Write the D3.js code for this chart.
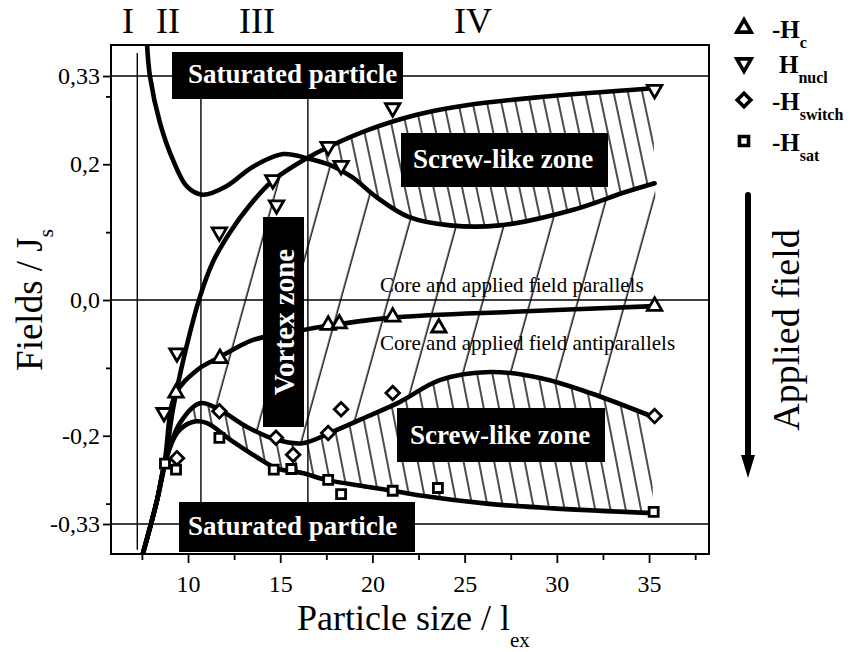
<!DOCTYPE html>
<html>
<head>
<meta charset="utf-8">
<script src="https://cdn.jsdelivr.net/npm/d3@7"></script>
<style>
  body { margin: 0; background: #fff; }
</style>
</head>
<body>
<div class="container"></div>
<script>
// Measured points (particle size / l_ex, field / J_s)
const hcPoints = [[9.35,-0.137],[11.73,-0.086],[17.6,-0.037],[18.2,-0.035],[21.1,-0.025],[23.6,-0.041],[35.3,-0.009]]
const nuclPoints = [[8.7,-0.166],[9.4,-0.078],[11.7,0.100],[14.6,0.177],[14.8,0.140],[17.6,0.226],[18.3,0.198],[21.1,0.283],[35.3,0.310]]
const switchPoints = [[9.4,-0.233],[11.7,-0.164],[14.77,-0.203],[15.7,-0.228],[17.6,-0.196],[18.3,-0.161],[21.1,-0.137],[35.3,-0.171]]
const satPoints = [[8.75,-0.241],[9.35,-0.25],[11.7,-0.203],[14.65,-0.25],[15.6,-0.249],[17.6,-0.265],[18.3,-0.286],[21.1,-0.281],[23.55,-0.277],[35.25,-0.312]]

// Fitted curves
const nuclFitA = [[7.78,0.376],[7.94,0.329],[8.48,0.261],[9.19,0.206],[9.95,0.167],[10.8,0.155],[12.1,0.168],[13.5,0.196],[15.15,0.215],[16.45,0.209],[17.7,0.199],[18.9,0.181],[20.2,0.152],[22.0,0.122],[24.2,0.11],[26.9,0.11],[30.9,0.133],[33.6,0.158],[35.3,0.172]]
const nuclFitB = [[7.56,-0.373],[8.32,-0.295],[8.75,-0.24],[9.19,-0.16],[9.8,-0.082],[10.65,0.005],[11.35,0.056],[12.28,0.1],[13.36,0.14],[14.6,0.176],[16.45,0.209],[17.5,0.224],[19.7,0.25],[22.4,0.273],[25.1,0.287],[29.1,0.299],[35.2,0.312]]
const hcFit = [[7.56,-0.373],[8.32,-0.295],[8.75,-0.235],[9.3,-0.14],[10.5,-0.103],[11.73,-0.084],[13.5,-0.059],[15.7,-0.047],[17.6,-0.038],[21.1,-0.026],[28.0,-0.017],[35.3,-0.009]]
const switchFit = [[7.56,-0.373],[8.32,-0.295],[8.75,-0.24],[9.57,-0.181],[10.65,-0.152],[11.73,-0.162],[13.2,-0.187],[14.8,-0.206],[16.2,-0.211],[17.85,-0.194],[19.7,-0.172],[21.5,-0.15],[23.65,-0.118],[26.4,-0.106],[29.1,-0.115],[31.8,-0.137],[35.2,-0.172]]
const satFit = [[7.56,-0.373],[8.32,-0.295],[8.75,-0.24],[9.4,-0.196],[10.2,-0.18],[11.0,-0.181],[12.3,-0.206],[13.7,-0.231],[14.8,-0.248],[16.2,-0.255],[17.5,-0.265],[19.7,-0.275],[21.1,-0.281],[22.6,-0.288],[26.2,-0.3],[29.8,-0.307],[35.2,-0.314]]
const midRightEdge = [[35.3,0.172],[35.3,0.118],[32.6,-0.145]]

// Axes, ticks, guide lines
const xTicks = [10, 15, 20, 25, 30, 35]
const xMinorTicks = [7.5, 12.5, 17.5, 22.5, 27.5, 32.5, 37.5]
const yTicks = [0.33, 0.2, 0, -0.2, -0.33]
const yTickLabels = ["0,33", "0,2", "0,0", "-0,2", "-0,33"]
const yMinorTicks = [0.3, 0.1, -0.1, -0.3]
const zoneX = [7.25, 10.7, 16.5]
const zoneNames = ["I", "II", "III", "IV"]
const zoneNameX = [6.75, 8.92, 13.74, 25.45]
const hLines = [0.33, 0, -0.33]

const legendNames = ["-H", "H", "-H", "-H"]
const legendSubs = ["c", "nucl", "switch", "sat"]

const width = 850
const height = 652
const plot = {left: 111, right: 709, top: 45, bottom: 554}
const serif = '"Liberation Serif", "Times New Roman", Times, serif'

const svg = d3.select(".container")
    .append("svg")
    .attr("width", width)
    .attr("height", height)
    .attr("font-family", serif)

const xScale = d3.scaleLinear()
    .domain([5.824, 38.25])
    .range([plot.left, plot.right])
const yScale = d3.scaleLinear()
    .domain([-0.3742, 0.3757])
    .range([plot.bottom, plot.top])

const line = d3.line()
    .x(d => xScale(d[0]))
    .y(d => yScale(d[1]))
    .curve(d3.curveCatmullRom.alpha(0.5))

// join several curve pieces into one closed outline
function regionPath(pieces) {
    return pieces.map((p, i) => {
        const s = line(p)
        return i ? "L" + s.slice(1) : s
    }).join("") + "Z"
}

const defs = svg.append("defs")
function addHatch(id, spacing, angle, offset) {
    const p = defs.append("pattern")
        .attr("id", id)
        .attr("patternUnits", "userSpaceOnUse")
        .attr("width", spacing)
        .attr("height", 10)
        .attr("patternTransform", `rotate(${angle})`)
    p.append("line")
        .attr("x1", offset).attr("x2", offset)
        .attr("y1", -1).attr("y2", 11)
        .attr("stroke", "#000")
        .attr("stroke-width", 1.4)
}
addHatch("hatchUpper", 14, -12, 7)
addHatch("hatchLower", 15, -11, 7)
addHatch("hatchMid", 45.8, 15.5, 42)

defs.append("clipPath").attr("id", "plotClip")
    .append("rect")
    .attr("x", plot.left).attr("y", plot.top)
    .attr("width", plot.right - plot.left)
    .attr("height", plot.bottom - plot.top)
defs.append("clipPath").attr("id", "lowerStart")
    .append("rect")
    .attr("x", xScale(10.2)).attr("y", plot.top)
    .attr("width", plot.right - xScale(10.2))
    .attr("height", plot.bottom - plot.top)

// hatched zones
svg.append("path")
    .attr("d", regionPath([
        nuclFitB.filter(d => d[0] >= 8.75 && d[0] <= 16.45),
        nuclFitA.filter(d => d[0] >= 16.45),
        midRightEdge,
        switchFit.filter(d => d[0] >= 8.75 && d[0] <= 31.8).reverse()
    ]))
    .attr("fill", "url(#hatchMid)")

svg.append("path")
    .attr("d", regionPath([
        nuclFitB.filter(d => d[0] >= 16.45),
        nuclFitA.filter(d => d[0] >= 16.45).reverse()
    ]))
    .attr("fill", "url(#hatchUpper)")

svg.append("g")
    .attr("clip-path", "url(#lowerStart)")
    .append("path")
    .attr("d", regionPath([switchFit, satFit.slice().reverse()]))
    .attr("fill", "url(#hatchLower)")

// guide lines
svg.append("g").selectAll("line")
    .data(hLines)
    .enter()
    .append("line")
    .attr("x1", plot.left).attr("x2", plot.right)
    .attr("y1", d => yScale(d)).attr("y2", d => yScale(d))
    .attr("stroke", "#000")
    .attr("stroke-width", 1.4)

svg.append("g").selectAll("line")
    .data(zoneX)
    .enter()
    .append("line")
    .attr("x1", d => xScale(d)).attr("x2", d => xScale(d))
    .attr("y1", yScale(0.364)).attr("y2", yScale(-0.368))
    .attr("stroke", "#000")
    .attr("stroke-width", 1.4)

// axes
svg.append("g")
    .attr("transform", `translate(0,${plot.bottom})`)
    .call(d3.axisBottom(xScale).tickValues(xTicks).tickSize(9).tickPadding(12).tickFormat(d3.format("d")))
svg.append("g")
    .attr("transform", `translate(0,${plot.bottom})`)
    .call(d3.axisBottom(xScale).tickValues(xMinorTicks).tickSize(6).tickFormat(""))
svg.append("g")
    .attr("transform", `translate(${plot.left},0)`)
    .call(d3.axisLeft(yScale).tickValues(yTicks).tickSize(8).tickPadding(3).tickFormat((d, i) => yTickLabels[i]))
svg.append("g")
    .attr("transform", `translate(${plot.left},0)`)
    .call(d3.axisLeft(yScale).tickValues(yMinorTicks).tickSize(5).tickFormat(""))

svg.selectAll(".domain").remove()
svg.selectAll(".tick line").attr("stroke-width", 1.8)
svg.selectAll(".tick text")
    .attr("font-family", serif)
    .style("font-family", serif)
    .style("font-size", "24px")
    .attr("fill", "#000")

svg.append("rect")
    .attr("x", plot.left).attr("y", plot.top)
    .attr("width", plot.right - plot.left)
    .attr("height", plot.bottom - plot.top)
    .attr("fill", "none")
    .attr("stroke", "#000")
    .attr("stroke-width", 2)

// fitted curves
const curves = svg.append("g").attr("clip-path", "url(#plotClip)")
curves.selectAll("path")
    .data([nuclFitA, nuclFitB, hcFit, switchFit, satFit])
    .enter()
    .append("path")
    .attr("d", d => line(d))
    .attr("fill", "none")
    .attr("stroke", "#000")
    .attr("stroke-width", 4.6)
    .attr("stroke-linecap", "round")
    .attr("stroke-linejoin", "round")

// markers
const triUp = d3.symbol().type(d3.symbolTriangle).size(90)
const square = d3.symbol().type(d3.symbolSquare).size(81)
const diamond = d3.symbol().type(d3.symbolSquare).size(92)

const markerSets = [
    {data: hcPoints, path: triUp(), rot: 0},
    {data: nuclPoints, path: triUp(), rot: 180},
    {data: switchPoints, path: diamond(), rot: 45},
    {data: satPoints, path: square(), rot: 0}
]
markerSets.forEach(set => {
    svg.append("g").selectAll("path")
        .data(set.data)
        .enter()
        .append("path")
        .attr("d", set.path)
        .attr("transform", d => `translate(${xScale(d[0])},${yScale(d[1])}) rotate(${set.rot})`)
        .attr("fill", "#fff")
        .attr("stroke", "#000")
        .attr("stroke-width", 2.8)
})

// black label boxes
function labelBox(x, y, w, h) {
    svg.append("rect")
        .attr("x", x).attr("y", y)
        .attr("width", w).attr("height", h)
        .attr("fill", "#000")
}
function whiteText(x, y, txt, size, rotate) {
    const t = svg.append("text")
        .attr("fill", "#fff")
        .attr("font-weight", "bold")
        .style("font-size", size + "px")
        .text(txt)
    if (rotate) {
        t.attr("text-anchor", "middle")
         .attr("transform", `translate(${x},${y}) rotate(-90)`)
    } else {
        t.attr("x", x).attr("y", y)
    }
}
labelBox(172, 52, 231, 47)
whiteText(188, 83, "Saturated particle", 27)
labelBox(401, 133, 207, 54)
whiteText(413, 168, "Screw-like zone", 27)
labelBox(397, 408, 208, 54)
whiteText(410, 444, "Screw-like zone", 27)
labelBox(179, 502, 236, 50)
whiteText(188, 535, "Saturated particle", 27)
labelBox(263, 217, 41, 210)
whiteText(294, 322, "Vortex zone", 29, true)

// plain annotations
svg.append("text")
    .attr("x", 380).attr("y", 292)
    .style("font-size", "21px")
    .text("Core and applied field parallels")
svg.append("text")
    .attr("x", 380).attr("y", 350)
    .style("font-size", "21px")
    .text("Core and applied field antiparallels")

svg.append("g").selectAll("text")
    .data(zoneNames)
    .enter()
    .append("text")
    .attr("x", (d, i) => xScale(zoneNameX[i]))
    .attr("y", 33)
    .attr("text-anchor", "middle")
    .style("font-size", "36px")
    .text(d => d)

// axis titles
const xTitle = svg.append("text")
    .attr("x", 297).attr("y", 630)
    .style("font-size", "36px")
xTitle.append("tspan").text("Particle size / l")
xTitle.append("tspan").attr("dy", 17).style("font-size", "21px").text("ex")

const yTitle = svg.append("text")
    .attr("transform", "translate(42,300) rotate(-90)")
    .attr("text-anchor", "middle")
    .style("font-size", "37px")
yTitle.append("tspan").text("Fields / J")
yTitle.append("tspan").attr("dy", 11).style("font-size", "21px").text("s")

// applied field arrow
svg.append("line")
    .attr("x1", 748).attr("x2", 748)
    .attr("y1", 195).attr("y2", 458)
    .attr("stroke", "#000")
    .attr("stroke-width", 6)
    .attr("stroke-linecap", "round")
svg.append("path")
    .attr("d", "M741,455L755,455L748,478Z")
    .attr("fill", "#000")
svg.append("text")
    .attr("transform", "translate(799,330) rotate(-90)")
    .attr("text-anchor", "middle")
    .style("font-size", "38px")
    .text("Applied field")

// legend
const legendY = [28, 63, 100, 141]
const legend = svg.append("g").attr("id", "legend")
markerSets.forEach((set, i) => {
    legend.append("path")
        .attr("d", set.path)
        .attr("transform", `translate(744,${legendY[i]}) rotate(${set.rot})`)
        .attr("fill", "#fff")
        .attr("stroke", "#000")
        .attr("stroke-width", 3.6)
    const t = legend.append("text")
        .attr("x", i === 1 ? 779 : 772)
        .attr("y", legendY[i] + 10)
        .attr("font-weight", "bold")
        .style("font-size", "25px")
    t.append("tspan").text(legendNames[i])
    t.append("tspan").attr("dy", 10).style("font-size", "16px").text(legendSubs[i])
})
</script>
</body>
</html>
